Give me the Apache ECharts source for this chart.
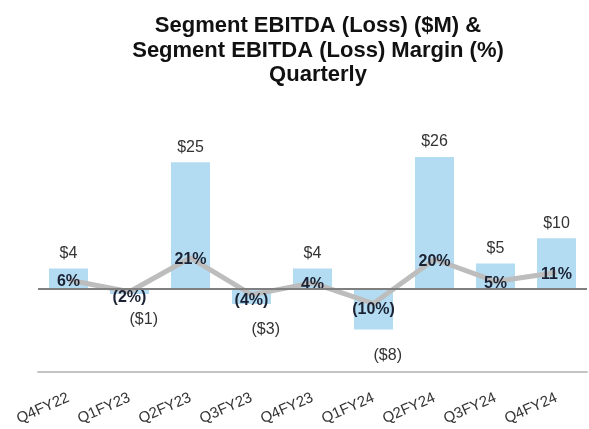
<!DOCTYPE html>
<html>
<head>
<meta charset="utf-8">
<script src="https://cdn.jsdelivr.net/npm/echarts@6/dist/echarts.min.js"></script>
<style>
  html, body { margin: 0; padding: 0; background: #ffffff; }
  #chart { width: 589px; height: 429px; }
</style>
</head>
<body>
<div id="chart"></div>
<script>
// Quarterly segment EBITDA ($M) and EBITDA margin (%)
const quarters = ['Q4FY22', 'Q1FY23', 'Q2FY23', 'Q3FY23', 'Q4FY23', 'Q1FY24', 'Q2FY24', 'Q3FY24', 'Q4FY24'];
const ebitda = [4, -1, 25, -3, 4, -8, 26, 5, 10];
const margin = [6, -2, 21, -4, 4, -10, 20, 5, 11];

const fmtMoney = v => v < 0 ? '($' + Math.abs(v) + ')' : '$' + v;
const fmtPct = v => v < 0 ? '(' + Math.abs(v) + '%)' : v + '%';
const FONT = 'Liberation Sans, Arial, sans-serif';

const chart = echarts.init(document.getElementById('chart'));
chart.setOption({
  animation: false,
  backgroundColor: '#ffffff',
  textStyle: { fontFamily: FONT },
  title: {
    text: 'Segment EBITDA (Loss) ($M) &\nSegment EBITDA (Loss) Margin (%)\nQuarterly',
    left: 313,
    top: 9,
    textAlign: 'center',
    textStyle: {
      fontSize: 22,
      fontWeight: 'bold',
      color: '#111111',
      lineHeight: 24.5,
      fontFamily: FONT
    }
  },
  grid: { left: 38, right: 2, top: 136.8, bottom: 57 },
  xAxis: {
    type: 'category',
    data: quarters,
    axisLine: { onZero: false, lineStyle: { color: '#c4c4c4', width: 2 } },
    axisTick: { show: false },
    axisLabel: {
      rotate: 24,
      margin: 25,
      fontSize: 15,
      color: '#333333',
      fontFamily: FONT
    }
  },
  yAxis: [
    { type: 'value', min: -16.4, max: 30, show: false, splitLine: { show: false } },
    { type: 'value', min: -56.4, max: 103, show: false, splitLine: { show: false } }
  ],
  series: [
    {
      type: 'bar',
      data: ebitda,
      barCategoryGap: '36%',
      itemStyle: { color: '#b3dcf3' },
      label: {
        show: true,
        formatter: p => fmtMoney(p.value),
        position: 'top',
        distance: 7,
        fontSize: 16,
        color: '#333333'
      },
      labelLayout: p => p.rect && ebitda[p.dataIndex] < 0 ? { y: p.rect.y + p.rect.height + 18 } : {},
      markLine: {
        silent: true,
        symbol: 'none',
        label: { show: false },
        lineStyle: { color: '#7f7f7f', width: 2, type: 'solid' },
        data: [{ yAxis: 0 }]
      },
      z: 2
    },
    {
      type: 'line',
      yAxisIndex: 1,
      data: margin,
      symbol: 'circle',
      symbolSize: 1,
      showSymbol: true,
      itemStyle: { color: 'rgba(0,0,0,0)' },
      lineStyle: { color: '#bdbdbd', width: 5 },
      label: {
        show: true,
        position: 'inside',
        formatter: p => fmtPct(p.value),
        fontSize: 16,
        fontWeight: 'bold',
        color: '#1a2233'
      },
      // nudge margin labels slightly below their points, loss quarters a bit more
      labelLayout: p => ({ dy: margin[p.dataIndex] < 0 ? 6 : 2 }),
      z: 3
    }
  ]
});
</script>
</body>
</html>
